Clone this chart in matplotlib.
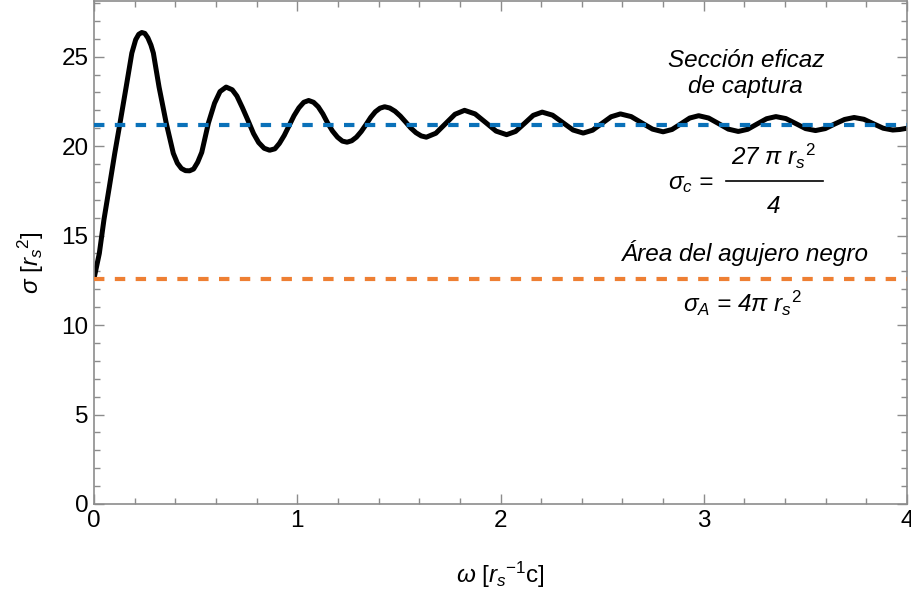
import numpy as np
import matplotlib
matplotlib.use("Agg")
import matplotlib.pyplot as plt
from matplotlib.ticker import MultipleLocator

plt.rcParams['font.family'] = ['Liberation Sans', 'DejaVu Sans']
plt.rcParams['mathtext.fontset'] = 'custom'
plt.rcParams['mathtext.rm'] = 'Liberation Sans'
plt.rcParams['mathtext.it'] = 'Liberation Sans:italic'
plt.rcParams['mathtext.sf'] = 'Liberation Sans'

# sigma(omega)
omega = [0.000, 0.013, 0.026, 0.049, 0.075, 0.102, 0.128, 0.158, 0.186, 0.205,
         0.220, 0.235, 0.250, 0.265, 0.280, 0.292, 0.320, 0.355, 0.390, 0.410,
         0.430, 0.450, 0.470, 0.490, 0.510, 0.530, 0.563, 0.593, 0.620, 0.650,
         0.680, 0.703, 0.730, 0.757, 0.785, 0.810, 0.837, 0.864, 0.890, 0.912,
         0.936, 0.960, 0.984, 1.008, 1.032, 1.056, 1.080, 1.103, 1.126, 1.149,
         1.173, 1.198, 1.222, 1.245, 1.268, 1.291, 1.315, 1.338, 1.361, 1.384,
         1.407, 1.430, 1.455, 1.481, 1.507, 1.533, 1.558, 1.584, 1.610, 1.635,
         1.682, 1.729, 1.776, 1.823, 1.875, 1.927, 1.978, 2.030, 2.074, 2.118,
         2.161, 2.205, 2.256, 2.306, 2.357, 2.407, 2.453, 2.499, 2.544, 2.590,
         2.643, 2.695, 2.748, 2.800, 2.844, 2.888, 2.931, 2.975, 3.024, 3.073,
         3.121, 3.170, 3.216, 3.263, 3.309, 3.355, 3.404, 3.453, 3.501, 3.550,
         3.598, 3.645, 3.693, 3.740, 3.788, 3.835, 3.883, 3.930, 3.965, 4.000]
sigma = [12.60, 13.30, 14.00, 15.90, 17.70, 19.60, 21.30, 23.30, 25.20, 25.95,
         26.25, 26.35, 26.30, 26.05, 25.65, 25.20, 23.30, 21.30, 19.60, 19.05,
         18.75, 18.63, 18.62, 18.72, 19.10, 19.65, 21.30, 22.40, 23.05, 23.30,
         23.15, 22.80, 22.15, 21.45, 20.70, 20.20, 19.88, 19.77, 19.85, 20.15,
         20.60, 21.15, 21.70, 22.14, 22.45, 22.55, 22.45, 22.20, 21.80, 21.30,
         20.85, 20.50, 20.28, 20.22, 20.30, 20.50, 20.82, 21.20, 21.60, 21.92,
         22.12, 22.20, 22.13, 21.95, 21.68, 21.35, 21.02, 20.75, 20.57, 20.50,
         20.72, 21.25, 21.78, 22.00, 21.80, 21.32, 20.84, 20.64, 20.82, 21.27,
         21.72, 21.90, 21.73, 21.32, 20.90, 20.73, 20.89, 21.27, 21.64, 21.80,
         21.65, 21.30, 20.95, 20.80, 20.93, 21.25, 21.57, 21.70, 21.57, 21.26,
         20.95, 20.82, 20.94, 21.24, 21.53, 21.65, 21.54, 21.26, 20.98, 20.87,
         20.98, 21.24, 21.49, 21.60, 21.50, 21.25, 21.00, 20.90, 20.93, 21.00]

sigma_c = 27 * np.pi / 4
sigma_A = 4 * np.pi

fs = 17.5

fig = plt.figure(figsize=(9.12, 5.96), dpi=100)
ax = fig.add_axes([0.1031, 0.1544, 0.8914, 0.8436])

ax.plot(omega, sigma, color='black', lw=3.6, solid_joinstyle='round',
        solid_capstyle='round', zorder=2)
ax.axhline(sigma_c, color='#0a71b9', lw=3.0, dashes=(2.5, 2.5),
           dash_capstyle='butt', zorder=3)
ax.axhline(sigma_A, color='#ee7f33', lw=3.0, dashes=(2.5, 2.5),
           dash_capstyle='butt', zorder=3)

ax.set_xlim(0, 4)
ax.set_ylim(0, 28.1)
ax.xaxis.set_major_locator(MultipleLocator(1))
ax.xaxis.set_minor_locator(MultipleLocator(0.2))
ax.yaxis.set_major_locator(MultipleLocator(5))
ax.yaxis.set_minor_locator(MultipleLocator(1))

gray = '#8c8c8c'
for s in ax.spines.values():
    s.set_color(gray)
    s.set_linewidth(1.2)
ax.tick_params(which='both', direction='in', top=True, right=True,
               color=gray, width=1.0, labelsize=fs, labelcolor='black')
ax.tick_params(which='major', length=7, pad=4)
ax.tick_params(which='minor', length=4)

ax.set_xlabel(r'$\omega$ [${r_s}^{-1}$c]', fontsize=fs, va='center')
ax.set_ylabel(r'$\sigma$ [${r_s}^{2}$]', fontsize=fs, va='center')
ax.xaxis.set_label_coords(0.50, -0.141)
ax.yaxis.set_label_coords(-0.0775, 0.48)

tkw = dict(fontsize=fs, style='italic', ha='center', va='center')
ax.text(3.207, 24.05, 'Sección eficaz\nde captura', linespacing=1.2, **tkw)
ax.text(3.207, 14.0, 'Área del agujero negro', **tkw)
ax.text(2.935, 17.9, r'$\sigma_c$ =', **tkw)
ax.text(3.345, 19.45, r'27 $\pi$ ${r_s}^{2}$', **tkw)
ax.text(3.345, 16.6, '4', **tkw)
ax.plot([3.108, 3.586], [18.04, 18.04], color='black', lw=1.2)
ax.text(3.19, 11.2, r'$\sigma_A$ = 4$\pi$ ${r_s}^{2}$', **tkw)

fig.savefig('out.png', dpi=100)
